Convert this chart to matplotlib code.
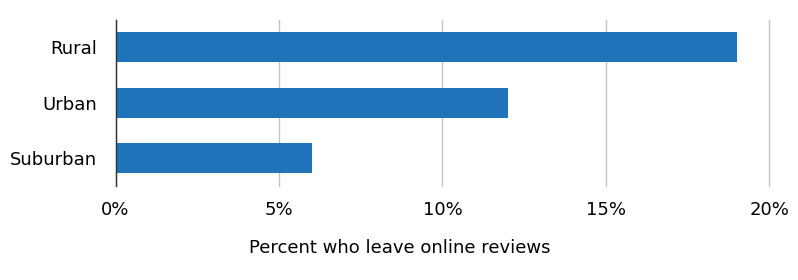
import matplotlib
matplotlib.use("Agg")
import matplotlib.pyplot as plt
from matplotlib.ticker import FuncFormatter

categories = ["Rural", "Urban", "Suburban"]
values = [19, 12, 6]
xticks = [0, 5, 10, 15, 20]
xlabel = "Percent who leave online reviews"

plt.rcParams['font.family'] = ['DejaVu Sans']
fig = plt.figure(figsize=(7.98, 2.8), dpi=100)
ax = fig.add_axes([115.5/798, 1-186/280, (769.3-115.5)/798, (186-19.5)/280])

ypos = list(range(len(categories)))
ax.barh(ypos, values, height=0.54, color="#1f74b9", zorder=3)
ax.set_yticks(ypos)
ax.set_yticklabels(categories, fontsize=13)
ax.set_ylim(2.5, -0.5)
ax.set_xlim(0, 20)
ax.set_xticks(xticks)
ax.xaxis.set_major_formatter(FuncFormatter(lambda v, p: f"{v:.0f}%"))
ax.tick_params(axis='x', length=0, pad=10.5, labelsize=13)
ax.tick_params(axis='y', length=0, pad=13.5, labelsize=13)
ax.grid(axis='x', color="#c4c4c4", linewidth=1.0, zorder=0)
for gl in ax.get_xgridlines():
    gl.set_clip_on(False)
for s in ["top", "right", "bottom"]:
    ax.spines[s].set_visible(False)
ax.spines["left"].set_color("#333333")
ax.spines["left"].set_linewidth(1.0)
ax.spines["left"].set_zorder(4)

fig.text(400/798, 1-248/280, xlabel, ha="center", va="center", fontsize=13)
fig.savefig("out.png", dpi=100)
